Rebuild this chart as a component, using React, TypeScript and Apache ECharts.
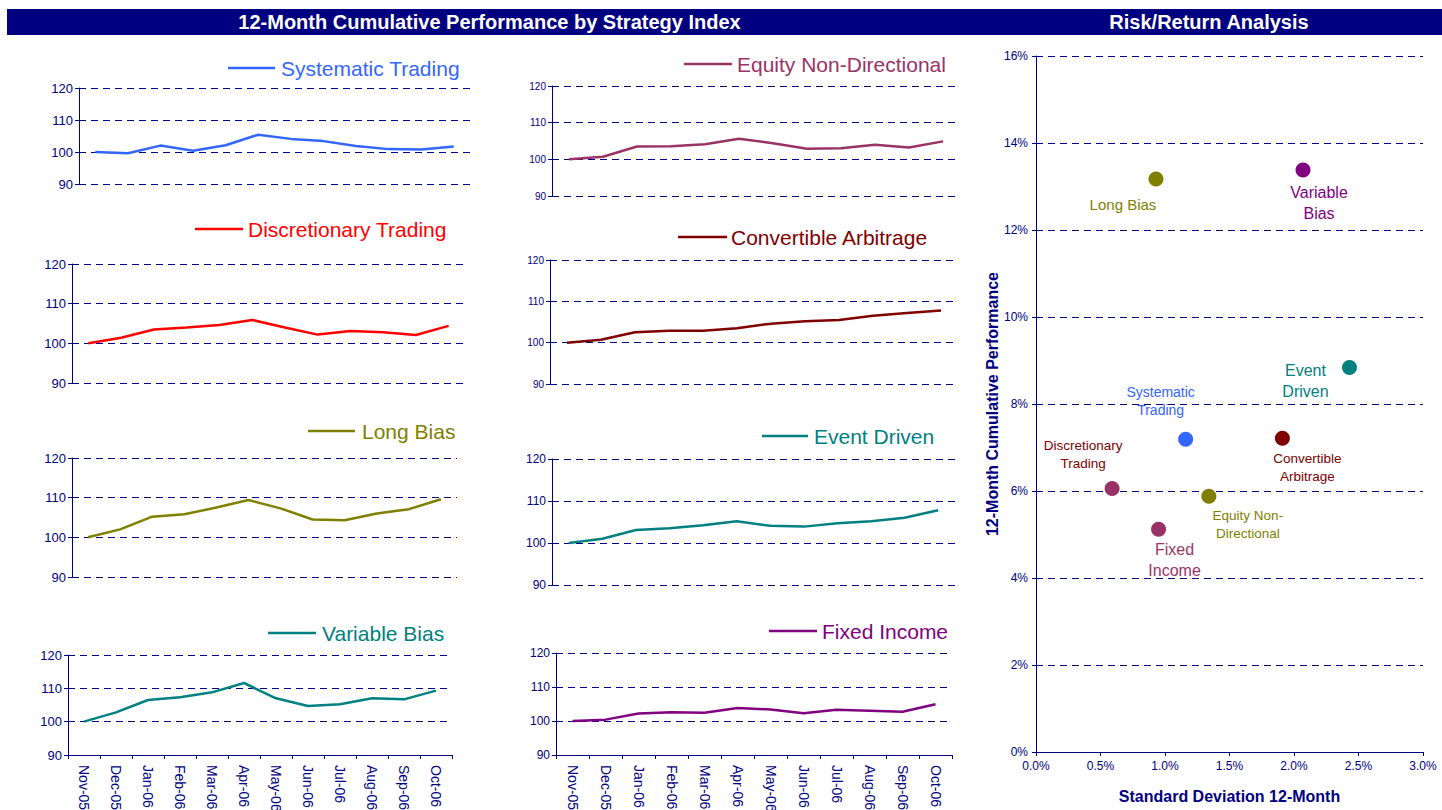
import React, { useEffect, useRef } from 'react';
import * as echarts from 'echarts';

// ---------- DATA ----------
const months = ['Nov-05', 'Dec-05', 'Jan-06', 'Feb-06', 'Mar-06', 'Apr-06', 'May-06', 'Jun-06', 'Jul-06', 'Aug-06', 'Sep-06', 'Oct-06'];

const systematicTrading = [100, 99.6, 102.0, 100.4, 102.1, 105.4, 104.1, 103.4, 101.9, 100.9, 100.8, 101.7];
const discretionaryTrading = [100, 101.4, 103.5, 104.0, 104.6, 105.9, 104.0, 102.2, 103.1, 102.8, 102.1, 104.4];
const longBias = [100, 102.0, 105.2, 105.8, 107.5, 109.4, 107.3, 104.5, 104.3, 106.0, 107.1, 109.6];
const variableBias = [100, 102.8, 106.5, 107.3, 108.8, 111.6, 107.0, 104.7, 105.2, 107.0, 106.7, 109.3];
const equityNonDirectional = [100, 100.7, 103.5, 103.6, 104.1, 105.6, 104.4, 102.9, 103.0, 104.0, 103.2, 104.9];
const convertibleArbitrage = [100, 100.7, 102.5, 102.9, 102.9, 103.5, 104.6, 105.2, 105.5, 106.5, 107.2, 107.8];
const eventDriven = [100, 101.0, 103.1, 103.5, 104.2, 105.2, 104.1, 103.9, 104.7, 105.2, 106.0, 107.8];
const fixedIncome = [100, 100.4, 102.2, 102.6, 102.4, 103.8, 103.4, 102.3, 103.3, 103.0, 102.7, 104.9];

const indexTicks = { min: 90, max: 120, step: 10 };

const riskNames = ['Long Bias', 'Variable Bias', 'Event Driven', 'Systematic Trading', 'Convertible Arbitrage', 'Discretionary Trading', 'Equity Non-Directional', 'Fixed Income'];
const riskLabels = ['Long Bias', 'Variable\nBias', 'Event\nDriven', 'Systematic\nTrading', 'Convertible\nArbitrage', 'Discretionary\nTrading', 'Equity Non-\nDirectional', 'Fixed\nIncome'];
const riskStdDev = [0.93, 2.07, 2.43, 1.16, 1.91, 0.59, 1.34, 0.95]; // %
const riskReturn = [13.17, 13.38, 8.84, 7.19, 7.21, 6.06, 5.88, 5.12]; // %

const riskXTicks = { min: 0, max: 3, step: 0.5 };
const riskYTicks = { min: 0, max: 16, step: 2 };

const leftTitle = '12-Month Cumulative Performance by Strategy Index';
const rightTitle = 'Risk/Return Analysis';
const xAxisName = 'Standard Deviation 12-Month';
const yAxisName = '12-Month Cumulative Performance';

// ---------- STYLE / LAYOUT ----------
const FONT = '"Liberation Sans", Arial, Helvetica, sans-serif';
const NAVY = '#000080';

const panels = [
  { name: 'Systematic Trading', values: systematicTrading, color: '#3366FF', grid: [79, 88, 391, 96], legend: [228, 275, 68, 281], tickFont: 13, showX: false },
  { name: 'Discretionary Trading', values: discretionaryTrading, color: '#FF0000', grid: [72, 264, 393, 119], legend: [195, 243, 229, 248], tickFont: 13, showX: false },
  { name: 'Long Bias', values: longBias, color: '#808000', grid: [72, 458, 385, 119], legend: [308, 355, 431, 362], tickFont: 13, showX: false },
  { name: 'Variable Bias', values: variableBias, color: '#008080', grid: [68, 655, 384, 100], legend: [268, 316, 633, 322], tickFont: 13, showX: true },
  { name: 'Equity Non-Directional', values: equityNonDirectional, color: '#993366', grid: [552, 86, 408, 110], legend: [684, 732, 64, 737], tickFont: 10, showX: false },
  { name: 'Convertible Arbitrage', values: convertibleArbitrage, color: '#800000', grid: [550, 260, 408, 124], legend: [678, 727, 237, 731], tickFont: 10, showX: false },
  { name: 'Event Driven', values: eventDriven, color: '#008080', grid: [552, 459, 403, 126], legend: [762, 808, 436, 814], tickFont: 12, showX: false },
  { name: 'Fixed Income', values: fixedIncome, color: '#800080', grid: [556, 653, 396, 102], legend: [769, 817, 631, 822], tickFont: 12, showX: true },
];

const riskStyles = [
  { dot: '#808000', text: '#808000', offset: [-33, 25], size: 15 },
  { dot: '#800080', text: '#800080', offset: [16, 33], size: 16 },
  { dot: '#008080', text: '#008080', offset: [-44, 14], size: 16 },
  { dot: '#3366FF', text: '#3366FF', offset: [-25, -38], size: 14 },
  { dot: '#800000', text: '#800000', offset: [25, 29], size: 13.5 },
  { dot: '#993366', text: '#800000', offset: [-29, -34], size: 13.5 },
  { dot: '#808000', text: '#808000', offset: [39, 28], size: 13.5 },
  { dot: '#993366', text: '#993366', offset: [16, 31], size: 16 },
];

const scatterGrid = [1036, 56, 387, 696];

function buildOption() {
  const grids: any[] = [];
  const xAxes: any[] = [];
  const yAxes: any[] = [];
  const series: any[] = [];
  const graphics: any[] = [];

  graphics.push({ type: 'rect', shape: { x: 7, y: 9, width: 1435, height: 26 }, style: { fill: NAVY }, silent: true });
  graphics.push({ type: 'text', x: 489.5, y: 22, style: { text: leftTitle, fill: '#FFFFFF', fontSize: 20, fontWeight: 'bold', fontFamily: FONT, textAlign: 'center', textVerticalAlign: 'middle' } });
  graphics.push({ type: 'text', x: 1209, y: 22, style: { text: rightTitle, fill: '#FFFFFF', fontSize: 20, fontWeight: 'bold', fontFamily: FONT, textAlign: 'center', textVerticalAlign: 'middle' } });

  panels.forEach((p, i) => {
    grids.push({ left: p.grid[0], top: p.grid[1], width: p.grid[2], height: p.grid[3], containLabel: false, outerBoundsMode: 'none' });
    xAxes.push({
      type: 'category',
      gridIndex: i,
      data: months,
      boundaryGap: true,
      show: p.showX,
      axisLine: { show: true, lineStyle: { color: NAVY, width: 1 } },
      axisTick: { show: true, length: 4, interval: 0, lineStyle: { color: NAVY } },
      axisLabel: { interval: 0, rotate: -90, color: NAVY, fontSize: 14, fontFamily: FONT, margin: 10 },
      splitLine: { show: false },
    });
    yAxes.push({
      type: 'value',
      gridIndex: i,
      min: indexTicks.min,
      max: indexTicks.max,
      interval: indexTicks.step,
      axisLine: { show: true, lineStyle: { color: NAVY, width: 1 } },
      axisTick: { show: true, length: 4, lineStyle: { color: NAVY } },
      axisLabel: { color: NAVY, fontSize: p.tickFont, fontFamily: FONT, margin: 6 },
      splitLine: { show: true, lineStyle: { color: NAVY, type: [7, 5], width: 1 } },
    });
    series.push({
      type: 'line',
      name: p.name,
      xAxisIndex: i,
      yAxisIndex: i,
      data: p.values,
      symbol: 'none',
      lineStyle: { color: p.color, width: 2.5 },
      itemStyle: { color: p.color },
    });
    const [x1, x2, ly, tx] = p.legend;
    graphics.push({ type: 'line', shape: { x1, y1: ly, x2, y2: ly }, style: { stroke: p.color, lineWidth: 2.5 }, silent: true });
    graphics.push({ type: 'text', x: tx, y: ly, style: { text: p.name, fill: p.color, fontSize: 21, fontFamily: FONT, textAlign: 'left', textVerticalAlign: 'middle' } });
  });

  const si = panels.length;
  grids.push({ left: scatterGrid[0], top: scatterGrid[1], width: scatterGrid[2], height: scatterGrid[3], containLabel: false, outerBoundsMode: 'none' });
  xAxes.push({
    type: 'value',
    gridIndex: si,
    min: riskXTicks.min,
    max: riskXTicks.max,
    interval: riskXTicks.step,
    name: xAxisName,
    nameLocation: 'middle',
    nameGap: 36,
    nameTextStyle: { color: NAVY, fontSize: 16, fontWeight: 'bold', fontFamily: FONT },
    axisLine: { show: true, lineStyle: { color: NAVY, width: 1 } },
    axisTick: { show: true, length: 4, lineStyle: { color: NAVY } },
    axisLabel: { color: NAVY, fontSize: 12, fontFamily: FONT, margin: 8, formatter: (v: number) => v.toFixed(1) + '%' },
    splitLine: { show: false },
  });
  yAxes.push({
    type: 'value',
    gridIndex: si,
    min: riskYTicks.min,
    max: riskYTicks.max,
    interval: riskYTicks.step,
    name: yAxisName,
    nameLocation: 'middle',
    nameRotate: 90,
    nameGap: 33,
    nameTextStyle: { color: NAVY, fontSize: 16, fontWeight: 'bold', fontFamily: FONT },
    axisLine: { show: true, lineStyle: { color: NAVY, width: 1 } },
    axisTick: { show: true, length: 4, lineStyle: { color: NAVY } },
    axisLabel: { color: NAVY, fontSize: 12, fontFamily: FONT, margin: 8, formatter: (v: number) => v + '%' },
    splitLine: { show: true, lineStyle: { color: NAVY, type: [7, 5], width: 1 } },
  });
  series.push({
    type: 'scatter',
    name: 'Risk/Return',
    xAxisIndex: si,
    yAxisIndex: si,
    symbol: 'circle',
    symbolSize: 15,
    itemStyle: { opacity: 1 },
    data: riskNames.map((n, k) => ({
      name: n,
      value: [riskStdDev[k], riskReturn[k]],
      itemStyle: { color: riskStyles[k].dot, opacity: 1 },
      label: {
        show: true,
        position: 'inside',
        offset: riskStyles[k].offset,
        formatter: riskLabels[k],
        color: riskStyles[k].text,
        opacity: 1,
        fontSize: riskStyles[k].size,
        lineHeight: Math.round(riskStyles[k].size * 1.3),
        fontFamily: FONT,
        align: 'center',
        verticalAlign: 'middle',
      },
    })),
  });

  return {
    animation: false,
    backgroundColor: '#FFFFFF',
    textStyle: { fontFamily: FONT },
    grid: grids,
    xAxis: xAxes,
    yAxis: yAxes,
    series,
    graphic: graphics,
  };
}

export default function App() {
  const ref = useRef<HTMLDivElement>(null);
  useEffect(() => {
    if (!ref.current) return;
    const chart = echarts.init(ref.current, undefined, { renderer: 'svg' });
    chart.setOption(buildOption() as any);
    return () => chart.dispose();
  }, []);
  return (
    <div
      ref={ref}
      style={{ position: 'fixed', left: 0, top: 0, width: 1442, height: 810, background: '#FFFFFF' }}
    />
  );
}
